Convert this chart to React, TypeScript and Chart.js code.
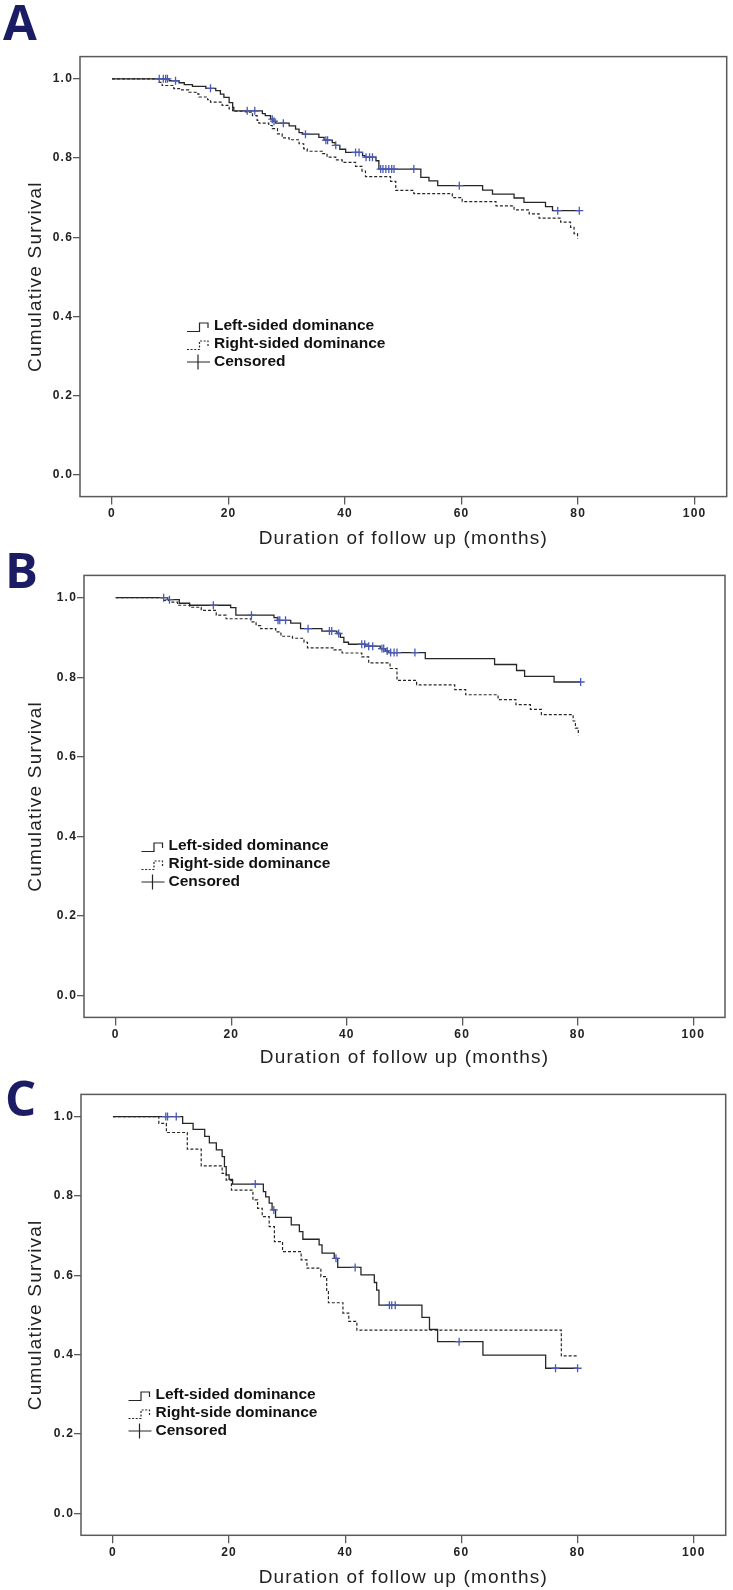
import React, { useEffect, useRef } from 'react';
import { Chart, registerables } from 'chart.js';

Chart.register(...registerables);

// ---------- data ----------
const xTicks = [0, 20, 40, 60, 80, 100];
const yTicks = [0, 0.2, 0.4, 0.6, 0.8, 1.0];
const xTitle = 'Duration of follow up (months)';
const yTitle = 'Cumulative Survival';

const legendA = ['Left-sided dominance', 'Right-sided dominance', 'Censored'];
const legendB = ['Left-sided dominance', 'Right-side dominance', 'Censored'];
const legendC = ['Left-sided dominance', 'Right-side dominance', 'Censored'];

// Panel A
const aLeftTime = [0, 9.8, 11.5, 12.4, 13.8, 16.1, 17.8, 18.6, 19.2, 20.1, 20.7, 20.9, 25.8, 26.3, 27.2, 27.6, 28.1, 30.4, 31.5, 32.1, 32.7, 35.5, 36.4, 37.8, 38.3, 39.1, 40.1, 43.0, 43.4, 45.3, 45.8, 53.0, 54.4, 55.9, 63.6, 65.3, 69.0, 70.7, 74.4, 75.6, 80.2];
const aLeftSurv = [1.0, 0.995, 0.990, 0.985, 0.981, 0.976, 0.970, 0.961, 0.953, 0.940, 0.928, 0.919, 0.912, 0.907, 0.898, 0.893, 0.888, 0.881, 0.873, 0.864, 0.860, 0.852, 0.845, 0.839, 0.832, 0.822, 0.814, 0.806, 0.802, 0.793, 0.772, 0.751, 0.742, 0.730, 0.719, 0.709, 0.699, 0.688, 0.677, 0.667, 0.667];
const aRightTime = [0, 8.1, 8.6, 10.6, 11.8, 13.2, 14.4, 14.9, 16.4, 16.9, 18.9, 20.1, 20.7, 23.0, 24.1, 24.9, 25.2, 26.9, 27.5, 28.4, 29.2, 30.4, 32.1, 32.9, 33.5, 36.1, 36.9, 38.4, 39.5, 41.8, 42.9, 43.5, 47.8, 48.7, 51.8, 58.4, 60.1, 65.9, 69.0, 71.6, 73.3, 77.0, 78.7, 79.3, 79.9];
const aRightSurv = [1.0, 0.991, 0.983, 0.975, 0.972, 0.966, 0.962, 0.954, 0.947, 0.941, 0.933, 0.924, 0.918, 0.916, 0.907, 0.895, 0.888, 0.882, 0.874, 0.861, 0.851, 0.846, 0.836, 0.823, 0.817, 0.811, 0.802, 0.795, 0.789, 0.779, 0.767, 0.753, 0.741, 0.718, 0.710, 0.700, 0.690, 0.679, 0.669, 0.659, 0.648, 0.638, 0.625, 0.609, 0.596];
const aCensTime = [8.1, 8.8, 9.2, 9.5, 10.9, 16.9, 23.2, 24.5, 27.5, 27.8, 29.4, 33.2, 36.7, 37.0, 38.4, 41.8, 42.4, 43.6, 44.2, 44.7, 46.1, 46.5, 47.0, 47.5, 48.0, 48.4, 51.8, 59.6, 76.5, 80.2];
const aCensSurv = [1.0, 1.0, 1.0, 1.0, 0.995, 0.976, 0.919, 0.919, 0.898, 0.893, 0.888, 0.860, 0.845, 0.845, 0.832, 0.814, 0.814, 0.802, 0.802, 0.802, 0.772, 0.772, 0.772, 0.772, 0.772, 0.772, 0.772, 0.730, 0.667, 0.667];

// Panel B
const bLeftTime = [0, 9.0, 11.0, 12.8, 19.9, 20.8, 27.4, 28.0, 30.3, 32.0, 35.7, 38.3, 38.9, 39.5, 40.3, 43.2, 45.8, 46.7, 47.2, 53.6, 65.6, 69.4, 70.8, 75.9, 80.5];
const bLeftSurv = [1.0, 0.995, 0.986, 0.981, 0.975, 0.956, 0.950, 0.943, 0.936, 0.922, 0.916, 0.910, 0.900, 0.888, 0.883, 0.878, 0.872, 0.866, 0.862, 0.847, 0.832, 0.817, 0.802, 0.788, 0.788];
const bRightTime = [0, 8.3, 9.3, 10.7, 12.8, 14.8, 17.4, 19.1, 23.4, 24.3, 25.1, 27.7, 28.6, 30.6, 32.6, 33.2, 37.8, 39.2, 42.6, 43.8, 47.5, 48.7, 52.1, 58.7, 60.6, 66.2, 69.3, 71.8, 73.7, 79.2, 79.6, 80.1];
const bRightSurv = [1.0, 0.993, 0.989, 0.981, 0.976, 0.968, 0.956, 0.947, 0.939, 0.930, 0.922, 0.914, 0.903, 0.898, 0.888, 0.874, 0.869, 0.861, 0.851, 0.836, 0.822, 0.792, 0.781, 0.769, 0.756, 0.744, 0.731, 0.719, 0.706, 0.690, 0.672, 0.654];
const bCensTime = [8.3, 9.3, 16.9, 23.5, 28.1, 28.4, 29.4, 33.3, 37.0, 37.4, 38.6, 42.6, 43.1, 43.8, 44.5, 46.1, 46.4, 47.0, 47.6, 48.2, 48.7, 51.8, 80.5];
const bCensSurv = [1.0, 0.995, 0.981, 0.956, 0.943, 0.943, 0.943, 0.922, 0.916, 0.916, 0.910, 0.883, 0.883, 0.878, 0.878, 0.872, 0.872, 0.866, 0.862, 0.862, 0.862, 0.862, 0.788];

// Panel C
const cLeftTime = [0, 12.0, 13.8, 15.8, 16.6, 17.8, 18.8, 19.2, 19.5, 20.0, 20.6, 25.9, 26.3, 26.9, 27.4, 28.0, 30.7, 32.1, 32.7, 35.5, 36.0, 38.1, 38.7, 42.7, 45.0, 45.4, 45.8, 53.2, 54.5, 55.9, 63.7, 74.5, 80.0];
const cLeftSurv = [1.0, 0.983, 0.968, 0.950, 0.934, 0.916, 0.899, 0.874, 0.853, 0.842, 0.830, 0.811, 0.798, 0.782, 0.765, 0.746, 0.727, 0.710, 0.691, 0.677, 0.656, 0.643, 0.620, 0.601, 0.582, 0.563, 0.525, 0.494, 0.464, 0.433, 0.399, 0.366, 0.366];
const cRightTime = [0, 7.9, 9.2, 12.8, 15.2, 18.8, 19.5, 20.4, 24.1, 24.9, 25.7, 26.9, 27.8, 29.2, 32.4, 33.4, 35.8, 36.8, 37.1, 39.6, 40.6, 42.0, 77.2, 80.0];
const cRightSurv = [1.0, 0.983, 0.960, 0.918, 0.876, 0.857, 0.840, 0.815, 0.790, 0.769, 0.748, 0.723, 0.685, 0.660, 0.639, 0.618, 0.597, 0.559, 0.531, 0.505, 0.484, 0.462, 0.397, 0.397];
const cCensTime = [9.1, 9.4, 10.9, 24.5, 27.7, 38.4, 41.7, 47.6, 48.0, 48.6, 59.6, 76.2, 80.0];
const cCensSurv = [1.0, 1.0, 1.0, 0.830, 0.765, 0.643, 0.620, 0.525, 0.525, 0.525, 0.433, 0.366, 0.366];

// ---------- layout / style ----------
const FONT = '"Liberation Sans", Arial, Helvetica, sans-serif';
const LINE = '#262626';
const CENS = '#4a5ab2';
const FRAME = '#5a5a5a';
const NAVY = '#1c1c64';

const PANELS = [
  {
    letter: 'A', ct: 0, ch: 557, left: 80, right: 726.7, top: 56.6, bottom: 496.6, titleY: 538.5,
    letterX: 3, letterY: 40, legendX: 187, legendRows: [326, 344, 362], legend: legendA,
    leftT: aLeftTime, leftS: aLeftSurv, rightT: aRightTime, rightS: aRightSurv, censT: aCensTime, censS: aCensSurv,
  },
  {
    letter: 'B', ct: 540, ch: 537, left: 84, right: 725, top: 575.4, bottom: 1017.4, titleY: 1057.5,
    letterX: 5, letterY: 588, legendX: 141.5, legendRows: [846, 864, 882], legend: legendB,
    leftT: bLeftTime, leftS: bLeftSurv, rightT: bRightTime, rightS: bRightSurv, censT: bCensTime, censS: bCensSurv,
  },
  {
    letter: 'C', ct: 1075, ch: 515, left: 81, right: 725.7, top: 1094.4, bottom: 1535.3, titleY: 1578,
    letterX: 5, letterY: 1116, legendX: 128.5, legendRows: [1395, 1413, 1431], legend: legendC,
    leftT: cLeftTime, leftS: cLeftSurv, rightT: cRightTime, rightS: cRightSurv, censT: cCensTime, censS: cCensSurv,
  },
];

const pts = (t: number[], s: number[]) => t.map((x, i) => ({ x, y: s[i] }));

function stepIcon(ctx: CanvasRenderingContext2D, x0: number, cy: number) {
  ctx.beginPath();
  ctx.moveTo(x0, cy + 5.5);
  ctx.lineTo(x0 + 12.5, cy + 5.5);
  ctx.lineTo(x0 + 12.5, cy - 3);
  ctx.lineTo(x0 + 21, cy - 3);
  ctx.lineTo(x0 + 21, cy + 2);
  ctx.stroke();
}

function Panel({ p }: { p: any }) {
  const ref = useRef<HTMLCanvasElement>(null);
  useEffect(() => {
    const canvas = ref.current!;
    const tl = 11.4; // half title line height (19px * 1.2 / 2)
    const hx = p.ch - (p.bottom - p.ct);
    const framePlugin = {
      id: 'frameLegend' + p.letter,
      beforeDraw(chart: any) {
        chart.ctx.letterSpacing = '1.2px';
      },
      afterDraw(chart: any) {
        const ctx = chart.ctx as CanvasRenderingContext2D;
        const a = chart.chartArea;
        ctx.save();
        (ctx as any).letterSpacing = '0px';
        ctx.strokeStyle = FRAME;
        ctx.lineWidth = 1.5;
        ctx.setLineDash([]);
        ctx.strokeRect(a.left, a.top, a.right - a.left, a.bottom - a.top);

        // legend
        const x0 = p.legendX;
        const rows = p.legendRows.map((r: number) => r - p.ct);
        ctx.strokeStyle = LINE;
        ctx.lineWidth = 1.2;
        stepIcon(ctx, x0, rows[0]);
        ctx.setLineDash([2, 1.6]);
        stepIcon(ctx, x0, rows[1]);
        ctx.setLineDash([]);
        ctx.beginPath();
        ctx.moveTo(x0, rows[2]);
        ctx.lineTo(x0 + 23, rows[2]);
        ctx.moveTo(x0 + 11, rows[2] - 7.5);
        ctx.lineTo(x0 + 11, rows[2] + 7.5);
        ctx.stroke();
        ctx.font = 'bold 15.5px ' + FONT;
        ctx.fillStyle = '#111';
        ctx.textAlign = 'left';
        ctx.textBaseline = 'middle';
        p.legend.forEach((t: string, i: number) => ctx.fillText(t, x0 + 27, rows[i]));

        // panel letter
        ctx.font = 'bold 49px "Open Sans", ' + FONT;
        ctx.fillStyle = NAVY;
        ctx.textBaseline = 'alphabetic';
        ctx.fillText(p.letter, p.letterX, p.letterY - p.ct);
        ctx.restore();
      },
    };

    const tickFont = { family: FONT, size: 12, weight: 'bold' as const };
    const titleFont = { family: FONT, size: 19, weight: 'normal' as const };

    const chart = new Chart(canvas, {
      type: 'line',
      data: {
        datasets: [
          {
            label: 'Censored',
            data: pts(p.censT, p.censS),
            showLine: false,
            pointStyle: 'cross',
            pointRadius: 4,
            pointBorderWidth: 1.3,
            pointBorderColor: CENS,
            borderColor: CENS,
            backgroundColor: CENS,
          },
          {
            label: p.legend[0],
            data: pts(p.leftT, p.leftS),
            stepped: 'before',
            borderColor: LINE,
            borderWidth: 1.3,
            pointRadius: 0,
            fill: false,
          },
          {
            label: p.legend[1],
            data: pts(p.rightT, p.rightS),
            stepped: 'before',
            borderColor: LINE,
            borderWidth: 1.2,
            borderDash: [3, 2],
            pointRadius: 0,
            fill: false,
          },
        ],
      },
      options: {
        animation: false,
        responsive: false,
        events: [],
        layout: { padding: { left: 0, right: 733 - p.right, top: p.top - p.ct, bottom: 0 } },
        plugins: { legend: { display: false }, tooltip: { enabled: false }, title: { display: false } },
        scales: {
          x: {
            type: 'linear',
            min: -5.5,
            max: 105.5,
            afterBuildTicks: (s: any) => { s.ticks = xTicks.map((v) => ({ value: v })); },
            afterFit: (s: any) => { s.height = hx; },
            grid: { display: true, drawOnChartArea: false, drawTicks: true, tickLength: 8, color: FRAME, lineWidth: 1.3 },
            border: { display: false },
            ticks: { padding: 2, font: tickFont, color: '#222', maxRotation: 0, autoSkip: false, callback: (v: any) => String(v) },
            title: { display: true, text: xTitle, font: titleFont, color: '#222', padding: { top: 0, bottom: p.ch - tl - (p.titleY - p.ct) } },
          },
          y: {
            type: 'linear',
            min: -0.055,
            max: 1.056,
            afterBuildTicks: (s: any) => { s.ticks = yTicks.map((v) => ({ value: v })); },
            afterFit: (s: any) => { s.width = p.left; },
            grid: { display: true, drawOnChartArea: false, drawTicks: true, tickLength: 7, color: FRAME, lineWidth: 1.3 },
            border: { display: false },
            ticks: { padding: 0, font: tickFont, color: '#222', autoSkip: false, callback: (v: any) => Number(v).toFixed(1) },
            title: { display: true, text: yTitle, font: titleFont, color: '#222', padding: { top: 36 - tl, bottom: 0 } },
          },
        },
      },
      plugins: [framePlugin],
    } as any);
    return () => chart.destroy();
  }, [p]);
  return (
    <canvas
      ref={ref}
      width={733}
      height={p.ch}
      style={{ position: 'absolute', left: 0, top: p.ct, width: 733, height: p.ch, display: 'block' }}
    />
  );
}

export default function App() {
  return (
    <div style={{ position: 'absolute', left: 0, top: 0, width: 733, height: 1590, background: '#fff', overflow: 'hidden' }}>
      {PANELS.map((p) => (
        <Panel key={p.letter} p={p} />
      ))}
    </div>
  );
}
